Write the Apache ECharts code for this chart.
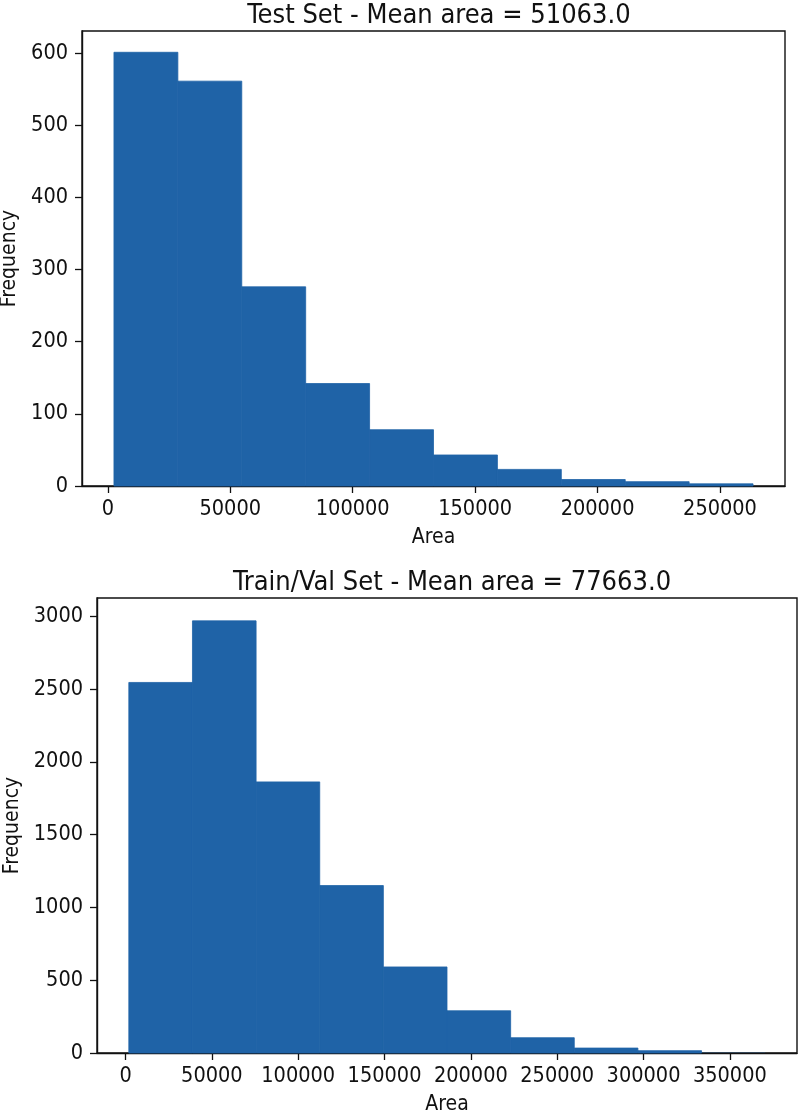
<!DOCTYPE html>
<html>
<head>
<meta charset="utf-8">
<script src="https://cdn.jsdelivr.net/npm/echarts@6/dist/echarts.min.js"></script>
<style>
  html, body { margin: 0; padding: 0; background: #fff; }
  #chart { width: 800px; height: 1116px; }
</style>
</head>
<body>
<div id="chart"></div>
<script>
// histogram bins
var testEdges = [2500, 28600, 54700, 80800, 106900, 133000, 159100, 185200, 211300, 237400, 263500];
var testCounts = [601, 561, 276, 142, 78, 43, 23, 9, 6, 3];
var trainEdges = [1900, 38760, 75610, 112470, 149320, 186180, 223040, 259890, 296750, 333600, 370460];
var trainCounts = [2545, 2968, 1862, 1150, 591, 290, 105, 34, 16, 1];

var testXTicks = [0, 50000, 100000, 150000, 200000, 250000];
var testYTicks = [0, 100, 200, 300, 400, 500, 600];
var trainXTicks = [0, 50000, 100000, 150000, 200000, 250000, 300000, 350000];
var trainYTicks = [0, 500, 1000, 1500, 2000, 2500, 3000];

var testTitle = 'Test Set - Mean area = 51063.0';
var trainTitle = 'Train/Val Set - Mean area = 77663.0';

var FONT = "'DejaVu Sans Condensed', 'DejaVu Sans'";
var barColor = '#1f63a7';

function binData(edges, counts) {
  var out = [];
  for (var i = 0; i < counts.length; i++) {
    out.push([edges[i], edges[i + 1], counts[i]]);
  }
  return out;
}

function renderBin(params, api) {
  var p0 = api.coord([api.value(0), api.value(2)]);
  var p1 = api.coord([api.value(1), 0]);
  var h = p1[1] - p0[1];
  return {
    type: 'rect',
    shape: { x: p0[0], y: p0[1], width: p1[0] - p0[0], height: h },
    style: { fill: barColor, stroke: barColor, lineWidth: h > 1 ? 0.8 : 0 }
  };
}

function plain(v) { return String(v); }

function xAxisOf(idx, min, max, ticks) {
  return {
    type: 'value', gridIndex: idx, min: min, max: max,
    name: 'Area', nameLocation: 'middle', nameGap: 41,
    nameTextStyle: { fontFamily: FONT, fontSize: 21, color: '#111' },
    splitLine: { show: false },
    axisLine: { show: true, onZero: false, lineStyle: { color: '#111', width: 1.4 } },
    axisTick: { show: true, inside: false, length: 7, customValues: ticks, lineStyle: { color: '#111', width: 1.3 } },
    axisLabel: { customValues: ticks, formatter: plain, margin: 12, fontFamily: FONT, fontSize: 21.5, color: '#111' }
  };
}

function yAxisOf(idx, max, ticks, gap) {
  return {
    type: 'value', gridIndex: idx, min: 0, max: max,
    name: 'Frequency', nameLocation: 'middle', nameGap: gap,
    nameTextStyle: { fontFamily: FONT, fontSize: 21, color: '#111' },
    splitLine: { show: false },
    axisLine: { show: true, onZero: false, lineStyle: { color: '#111', width: 1.4 } },
    axisTick: { show: true, inside: false, length: 7, customValues: ticks, lineStyle: { color: '#111', width: 1.3 } },
    axisLabel: { customValues: ticks, formatter: plain, margin: 14, fontFamily: FONT, fontSize: 21.5, color: '#111' }
  };
}

var dom = document.getElementById('chart');
var myChart = echarts.init(dom, null, { renderer: 'canvas' });

var option = {
  animation: false,
  backgroundColor: '#fff',
  title: [
    { text: testTitle, left: 434, top: -3, textAlign: 'center',
      textStyle: { fontFamily: FONT, fontSize: 27, fontWeight: 'normal', color: '#111' } },
    { text: trainTitle, left: 447, top: 564, textAlign: 'center',
      textStyle: { fontFamily: FONT, fontSize: 27, fontWeight: 'normal', color: '#111' } }
  ],
  grid: [
    { left: 82, top: 31, width: 703, height: 455, outerBoundsMode: 'none', containLabel: false,
      show: true, borderColor: '#111', borderWidth: 1.4, backgroundColor: 'transparent' },
    { left: 97, top: 598, width: 700, height: 455, outerBoundsMode: 'none', containLabel: false,
      show: true, borderColor: '#111', borderWidth: 1.4, backgroundColor: 'transparent' }
  ],
  xAxis: [
    xAxisOf(0, -10550, 276550, testXTicks),
    xAxisOf(1, -16530, 388890, trainXTicks)
  ],
  yAxis: [
    yAxisOf(0, 630.5, testYTicks, 57),
    yAxisOf(1, 3125, trainYTicks, 72)
  ],
  series: [
    { type: 'custom', xAxisIndex: 0, yAxisIndex: 0, renderItem: renderBin,
      encode: { x: [0, 1], y: 2 }, data: binData(testEdges, testCounts) },
    { type: 'custom', xAxisIndex: 1, yAxisIndex: 1, renderItem: renderBin,
      encode: { x: [0, 1], y: 2 }, data: binData(trainEdges, trainCounts) }
  ]
};

myChart.setOption(option, true);
window.addEventListener('resize', function () { myChart.resize(); });
</script>
</body>
</html>
